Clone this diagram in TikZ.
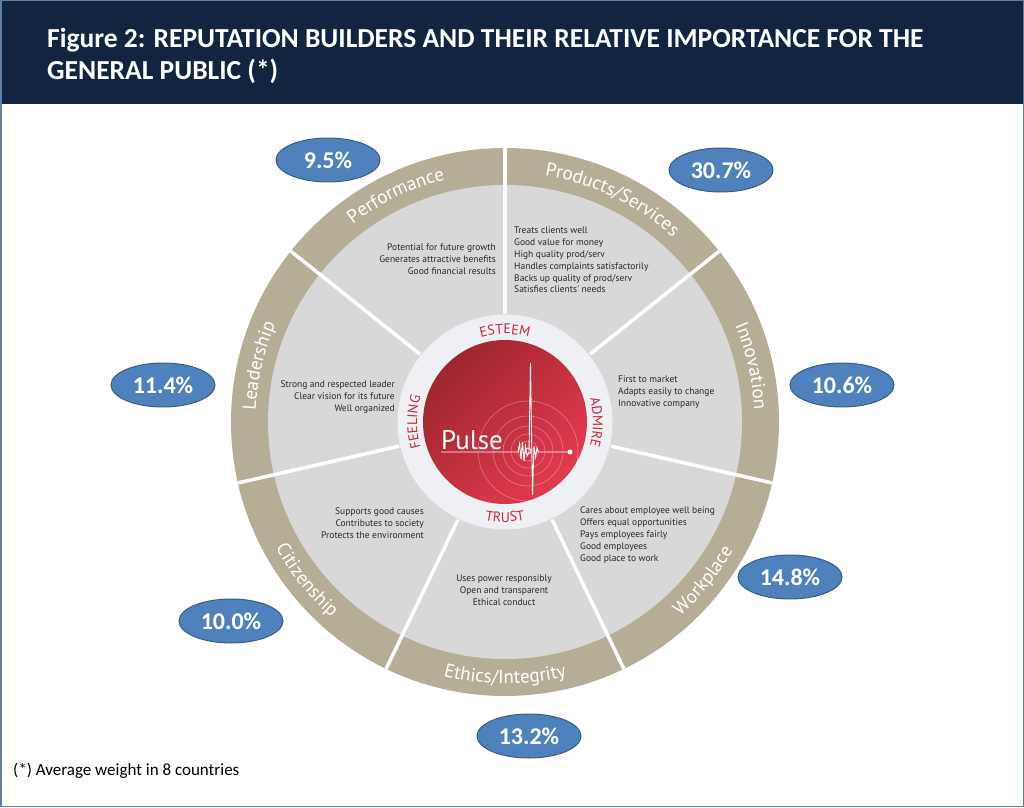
\documentclass[tikz,border=0pt]{standalone}
\usepackage{fontspec}
\setmainfont{Carlito}
\newfontfamily\myriad{PT Sans}
\usetikzlibrary{shapes.geometric,decorations.text}

\definecolor{titlebar}{RGB}{19,36,64}
\definecolor{frameline}{RGB}{94,127,168}
\definecolor{ringtan}{RGB}{182,173,151}
\definecolor{sectorgray}{RGB}{216,216,216}
\definecolor{pctblue}{RGB}{79,129,189}
\definecolor{pctedge}{RGB}{56,93,138}
\definecolor{crimson}{RGB}{200,40,63}
\definecolor{pulsedark}{RGB}{158,38,46}
\definecolor{pulsemid}{RGB}{198,46,72}
\definecolor{pulselight}{RGB}{228,58,80}
\definecolor{centerwhite}{RGB}{238,240,244}

\tikzset{
  pct/.style={ellipse, draw=pctedge, line width=1pt, fill=pctblue, minimum width=104pt,
    minimum height=44pt, inner sep=0pt, text=white, font=\fontsize{24}{24}\selectfont\bfseries},
  items/.style={font=\myriad\fontsize{9.5}{11.8}\selectfont, inner sep=0pt, text=black!85},
  divider/.style={white, line width=3.5pt},
}

% text set along an arc: start angle, end angle, radius, font, colour, text
\newcommand{\arclabel}[6]{%
  \path[decorate, decoration={text along path, text align=center, text color=#5,
    text={|#4|#6}}] (#1:#3) arc[start angle=#1, end angle=#2, radius=#3];}
\newcommand{\ringfont}{\myriad\fontsize{19}{19}\selectfont}
\newcommand{\corefont}{\myriad\fontsize{14}{14}\selectfont}

\begin{document}
\begin{tikzpicture}[x=1pt, y=1pt]
\useasboundingbox (0,0) rectangle (1024,807);

\fill[titlebar] (0,703) rectangle (1024,807);
\draw[frameline, line width=1.5pt] (0.75,0.75) rectangle (1023.25,806.25);
\node[anchor=west, align=left, text=white, inner sep=0pt,
  font=\fontsize{27.5}{32}\selectfont\bfseries] (title) at (47,751)
  {Figure 2: REPUTATION BUILDERS AND THEIR RELATIVE IMPORTANCE FOR THE\\GENERAL PUBLIC (*)};

\begin{scope}[shift={(505,385)}]
  \fill[ringtan] (0,0) circle[radius=274pt];
  \fill[sectorgray] (0,0) circle[radius=237pt];
  \foreach \k in {0,...,6}
    \draw[divider] ({90-51.4286*\k}:100pt) -- ({90-51.4286*\k}:274pt);

  % core
  \filldraw[fill=centerwhite, draw=black!15, line width=1pt] (0,0) circle[radius=108pt];
  \shade[top color=pulsedark, middle color=pulsemid, bottom color=pulselight, shading angle=45]
    (0,0) circle[radius=82pt];
  \foreach \r in {10,17,25,35,50}
    \draw[white, opacity=0.35, line width=0.6pt] (23,-29) circle[radius=\r pt];
  \draw[white, line width=0.9pt] (-64,-30) -- (13,-30) -- (14.5,-22) -- (16,-37) -- (17.5,-20)
    -- (19,-39) -- (20.5,-24) -- (22,-34) -- (24,-30) -- (25.5,59) -- (27.5,-73) -- (29,-24)
    -- (30.5,-35) -- (32,-26) -- (33.5,-30) -- (65,-30);
  \draw[white, line width=0.8pt] (23,-29) circle[radius=3pt];
  \fill[white] (65,-30) circle[radius=2.5pt];
  \node[anchor=base west, inner sep=0pt, text=white, font=\myriad\fontsize{27}{27}\selectfont]
    (pulse) at (-64,-27) {Pulse};

  \arclabel{135}{45}{88pt}{\corefont}{crimson}{ESTEEM}
  \arclabel{45}{-45}{88pt}{\corefont}{crimson}{ADMIRE}
  \arclabel{225}{135}{88pt}{\corefont}{crimson}{FEELING}
  \arclabel{225}{315}{100pt}{\corefont}{crimson}{TRUST}

  % ring
  \arclabel{141.43}{90}{249.5pt}{\ringfont}{white}{Performance}
  \arclabel{90}{38.57}{249.5pt}{\ringfont}{white}{Products/Services}
  \arclabel{38.57}{-12.86}{249.5pt}{\ringfont}{white}{Innovation}
  \arclabel{192.86}{141.43}{249.5pt}{\ringfont}{white}{Leadership}
  \arclabel{-64.29}{-12.86}{261.5pt}{\ringfont}{white}{Workplace}
  \arclabel{-115.71}{-64.29}{261.5pt}{\ringfont}{white}{Ethics/Integrity}
  \arclabel{-167.14}{-115.71}{261.5pt}{\ringfont}{white}{Citizenship}
\end{scope}

\node[items, anchor=east, align=right] (perf) at (496,548)
  {Potential for future growth\\Generates attractive benefits\\Good financial results};
\node[items, anchor=west, align=left] (prod) at (514,547)
  {Treats clients well\\Good value for money\\High quality prod/serv\\Handles complaints satisfactorily\\Backs up quality of prod/serv\\Satisfies clients' needs};
\node[items, anchor=west, align=left] (innov) at (618,415)
  {First to market\\Adapts easily to change\\Innovative company};
\node[items, anchor=west, align=left] (work) at (580,272)
  {Cares about employee well being\\Offers equal opportunities\\Pays employees fairly\\Good employees\\Good place to work};
\node[items, align=center] (ethics) at (504,217)
  {Uses power responsibly\\Open and transparent\\Ethical conduct};
\node[items, anchor=east, align=right] (citizen) at (424,284)
  {Supports good causes\\Contributes to society\\Protects the environment};
\node[items, anchor=east, align=right] (lead) at (395,410)
  {Strong and respected leader\\Clear vision for its future\\Well organized};

\node[pct] (pPerf) at (328,647) {9.5\%};
\node[pct] (pProd) at (721,637) {30.7\%};
\node[pct] (pInnov) at (842,422) {10.6\%};
\node[pct] (pWork) at (790,230) {14.8\%};
\node[pct] (pEthics) at (529,71) {13.2\%};
\node[pct] (pCitizen) at (231,186) {10.0\%};
\node[pct] (pLead) at (163,422) {11.4\%};

\node[anchor=west, inner sep=0pt, font=\fontsize{17}{17}\selectfont] (note) at (13,36)
  {(*) Average weight in 8 countries};
\end{tikzpicture}
\end{document}
